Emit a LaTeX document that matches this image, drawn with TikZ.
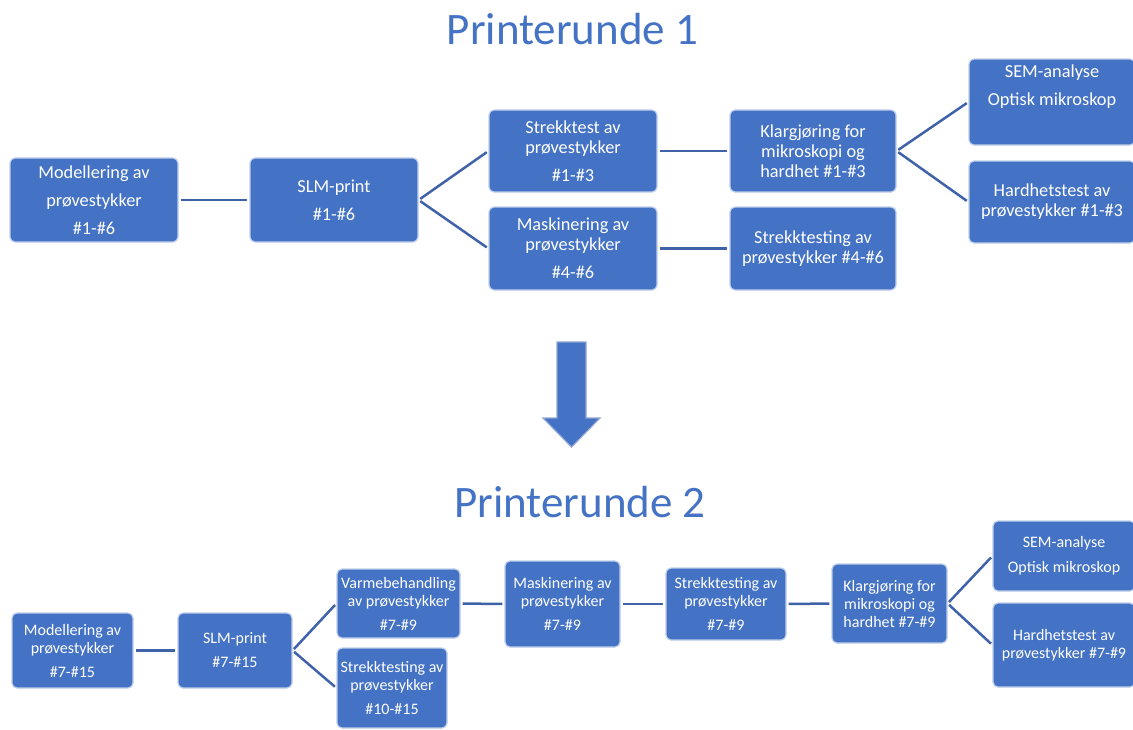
\documentclass[tikz,border=0pt]{standalone}
\usepackage{fontspec}
\setmainfont{Carlito}
\usepackage{tikz}
\usetikzlibrary{positioning}
\definecolor{boxblue}{HTML}{4472C4}
\definecolor{linkblue}{HTML}{3F62A8}
\definecolor{arrowedge}{HTML}{8FA6D2}

\begin{document}
\begin{tikzpicture}[
    x=0.5pt, y=-0.5pt,
    box/.style={rectangle, fill=boxblue, draw=white!65!boxblue, line width=0.6pt,
                rounded corners=2.5pt, inner sep=0pt, align=center, text=white,
                font=\fontsize{9.15}{10}\selectfont},
    boxs/.style={box, font=\fontsize{8}{9}\selectfont},
    heading/.style={text=boxblue, font=\fontsize{22.5}{27}\selectfont, anchor=base},
    link/.style={draw=linkblue, line width=1.25pt, shorten <=1pt, shorten >=1pt}
]
\useasboundingbox (0,0) rectangle (1133,729);

\node[heading] (round1) at (572.5,44) {Printerunde 1};
\node[heading] (round2) at (580,517) {Printerunde 2};

\node[box, minimum width=84pt, minimum height=42pt] (mod1) at (94,200) {Modellering av\\[4pt]prøvestykker\\[4pt]\#1-\#6};
\node[box, minimum width=84pt, minimum height=42pt] (slm1) at (334,200) {SLM-print\\[4pt]\#1-\#6};
\node[box, minimum width=84pt, minimum height=41pt] (strekk1) at (573,151) {Strekktest av\\prøvestykker\\[4pt]\#1-\#3};
\node[box, minimum width=84pt, minimum height=41.5pt] (mask1) at (573,248.5) {Maskinering av\\prøvestykker\\[4pt]\#4-\#6};
\node[box, minimum width=83pt, minimum height=41pt] (klarg1) at (813,151) {Klargjøring for\\mikroskopi og\\hardhet \#1-\#3};
\node[box, minimum width=83pt, minimum height=41.5pt] (strt1) at (813,248.5) {Strekktesting av\\prøvestykker \#4-\#6};
\node[box, minimum width=83pt, minimum height=43pt] (sem1) at (1052,102) {SEM-analyse\\[4pt]Optisk mikroskop\\[4pt]\strut};
\node[box, minimum width=83pt, minimum height=41pt] (hard1) at (1052,202) {Hardhetstest av\\prøvestykker \#1-\#3};

\node[boxs, minimum width=60.5pt, minimum height=37.5pt] (mod2) at (72.5,650.5) {Modellering av\\prøvestykker\\[3pt]\#7-\#15};
\node[boxs, minimum width=57pt, minimum height=37.5pt] (slm2) at (235,650.5) {SLM-print\\[3pt]\#7-\#15};
\node[boxs, minimum width=61.5pt, minimum height=34.5pt] (varme2) at (398.5,603.5) {Varmebehandling\\av prøvestykker\\[3pt]\#7-\#9};
\node[boxs, minimum width=55pt, minimum height=40pt] (strt2a) at (392,688) {Strekktesting av\\prøvestykker\\[3pt]\#10-\#15};
\node[boxs, minimum width=57.5pt, minimum height=43pt] (mask2) at (562.5,604) {Maskinering av\\prøvestykker\\[3pt]\#7-\#9};
\node[boxs, minimum width=60pt, minimum height=36pt] (strt2b) at (726,604) {Strekktesting av\\prøvestykker\\[3pt]\#7-\#9};
\node[boxs, minimum width=57.5pt, minimum height=39.5pt] (klarg2) at (889.5,603.5) {Klargjøring for\\mikroskopi og\\hardhet \#7-\#9};
\node[boxs, minimum width=71pt, minimum height=35pt] (sem2) at (1064,556) {SEM-analyse\\[3.5pt]Optisk mikroskop};
\node[boxs, minimum width=71pt, minimum height=42pt] (hard2) at (1064,645) {Hardhetstest av\\prøvestykker \#7-\#9};

\draw[link] (mod1) -- (slm1);
\draw[link] (slm1.east) -- (strekk1.west);
\draw[link] (slm1.east) -- (mask1.west);
\draw[link] (strekk1) -- (klarg1);
\draw[link] (mask1) -- (strt1);
\draw[link] (klarg1.east) -- (sem1.west);
\draw[link] (klarg1.east) -- (hard1.west);

\filldraw[fill=boxblue, draw=arrowedge, line width=0.6pt] (557,342) -- (586,342) -- (586,418) -- (600,418) -- (571.5,447) -- (543,418) -- (557,418) -- cycle;

\draw[link] (mod2) -- (slm2);
\draw[link] (slm2.east) -- (varme2.west);
\draw[link] (slm2.east) -- (strt2a.west);
\draw[link] (varme2.east) -- (mask2.west);
\draw[link] (mask2.east) -- (strt2b.west);
\draw[link] (strt2b.east) -- (klarg2.west);
\draw[link] (klarg2.east) -- (sem2.west);
\draw[link] (klarg2.east) -- (hard2.west);

\end{tikzpicture}
\end{document}
